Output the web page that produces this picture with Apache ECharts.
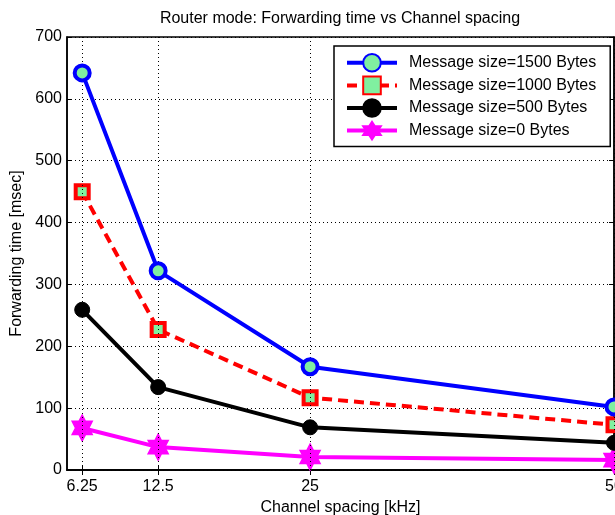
<!DOCTYPE html>
<html>
<head>
<meta charset="utf-8">
<script src="https://cdn.jsdelivr.net/npm/echarts@6/dist/echarts.min.js"></script>
<style>
  html, body { margin: 0; padding: 0; background: #fff; }
  #chart { width: 615px; height: 515px; }
</style>
</head>
<body>
<div id="chart"></div>
<script>
// Channel spacing values (kHz) and forwarding times (msec) per message size
const channelSpacing = [6.25, 12.5, 25, 50];
const size1500 = [642, 322, 167, 102];
const size1000 = [450, 227, 117, 73];
const size500 = [259, 134, 69, 44];
const size0 = [68, 37, 21, 16];

const FONT = 'Liberation Sans, Arial, Helvetica, sans-serif';
const FACE = '#80f0a0';
// six-pointed star marker
const HEXAGRAM = 'path://M10,0 L12.887,5 L18.66,5 L15.77,10 L18.66,15 L12.887,15 L10,20 L7.113,15 L1.34,15 L4.23,10 L1.34,5 L7.113,5 Z';

const pairs = arr => channelSpacing.map((x, i) => [x, arr[i]]);

const chart = echarts.init(document.getElementById('chart'), null, { renderer: 'canvas' });

const dotted = { color: '#000', width: 1, type: [1, 3] };

chart.setOption({
  animation: false,
  backgroundColor: '#fff',
  textStyle: { fontFamily: FONT },
  title: {
    text: 'Router mode: Forwarding time vs Channel spacing',
    left: 340, top: 11, padding: 0, textAlign: 'center',
    textStyle: { fontFamily: FONT, fontSize: 16, fontWeight: 'normal', color: '#000' }
  },
  grid: {
    left: 67, right: 1, top: 37, bottom: 45,
    outerBoundsMode: 'none', containLabel: false,
    show: true, borderColor: '#000', borderWidth: 1.5, backgroundColor: '#fff'
  },
  legend: {
    orient: 'vertical', left: 334, top: 46,
    padding: [7, 14, 6, 11],
    backgroundColor: '#fff', borderColor: '#000', borderWidth: 1.5, borderRadius: 0,
    itemWidth: 50, itemHeight: 22, itemGap: 3,
    lineStyle: { width: 4 },
    textStyle: { fontFamily: FONT, fontSize: 16, color: '#000', padding: [0, 0, 0, 7], lineHeight: 16 },
    data: ['Message size=1500 Bytes', 'Message size=1000 Bytes', 'Message size=500 Bytes', 'Message size=0 Bytes']
  },
  xAxis: [{
    type: 'value', min: 5, max: 50,
    name: 'Channel spacing [kHz]', nameLocation: 'middle', nameGap: 28,
    nameTextStyle: { fontFamily: FONT, fontSize: 16, color: '#000' },
    axisLine: { lineStyle: { color: '#000', width: 1.5 } },
    axisTick: { inside: true, length: 5, customValues: channelSpacing, lineStyle: { color: '#000' } },
    axisLabel: { customValues: channelSpacing, margin: 9, fontFamily: FONT, fontSize: 16, color: '#000', showMaxLabel: true, showMinLabel: true, hideOverlap: false },
    splitLine: { show: false }
  }, {
    type: 'value', min: 5, max: 50, position: 'top',
    axisLine: { lineStyle: { color: '#000', width: 1.5 } },
    axisTick: { inside: true, length: 5, customValues: channelSpacing, lineStyle: { color: '#000' } },
    axisLabel: { show: false },
    splitLine: { show: false }
  }],
  yAxis: [{
    type: 'value', min: 0, max: 700, interval: 100,
    name: 'Forwarding time [msec]', nameLocation: 'middle', nameGap: 40,
    nameTextStyle: { fontFamily: FONT, fontSize: 16, color: '#000' },
    axisLine: { show: true, lineStyle: { color: '#000', width: 1.5 } },
    axisTick: { show: true, inside: true, length: 5, lineStyle: { color: '#000' } },
    axisLabel: { margin: 5, fontFamily: FONT, fontSize: 16, color: '#000' },
    splitLine: { show: true, lineStyle: dotted }
  }, {
    type: 'value', min: 0, max: 700, interval: 100, position: 'right',
    axisLine: { show: true, lineStyle: { color: '#000', width: 1.5 } },
    axisTick: { show: true, inside: true, length: 5, lineStyle: { color: '#000' } },
    axisLabel: { show: false },
    splitLine: { show: false }
  }],
  series: [
    {
      // vertical grid lines at the channel spacing ticks
      type: 'line', data: [], silent: true, z: 1,
      markLine: {
        silent: true, symbol: 'none', label: { show: false },
        lineStyle: dotted, animation: false,
        data: channelSpacing.map(x => ({ xAxis: x }))
      }
    },
    {
      name: 'Message size=1500 Bytes', type: 'line', data: pairs(size1500), z: 5,
      lineStyle: { color: '#0000ff', width: 4 },
      symbol: 'circle', symbolSize: 15,
      itemStyle: { color: FACE, borderColor: '#0000ff', borderWidth: 4 }
    },
    {
      name: 'Message size=1000 Bytes', type: 'line', data: pairs(size1000), z: 4,
      lineStyle: { color: '#ff0000', width: 4, type: [10, 6] },
      symbol: 'rect', symbolSize: 13,
      itemStyle: { color: FACE, borderColor: '#ff0000', borderWidth: 4 }
    },
    {
      name: 'Message size=500 Bytes', type: 'line', data: pairs(size500), z: 3,
      lineStyle: { color: '#000', width: 4 },
      symbol: 'circle', symbolSize: 15,
      itemStyle: { color: '#000', borderColor: '#000', borderWidth: 1 }
    },
    {
      name: 'Message size=0 Bytes', type: 'line', data: pairs(size0), z: 2,
      lineStyle: { color: '#ff00ff', width: 4 },
      symbol: HEXAGRAM, symbolSize: [20, 26], symbolKeepAspect: false,
      itemStyle: { color: '#ff00ff', borderColor: '#ff00ff', borderWidth: 1.5 }
    }
  ]
});
</script>
</body>
</html>
